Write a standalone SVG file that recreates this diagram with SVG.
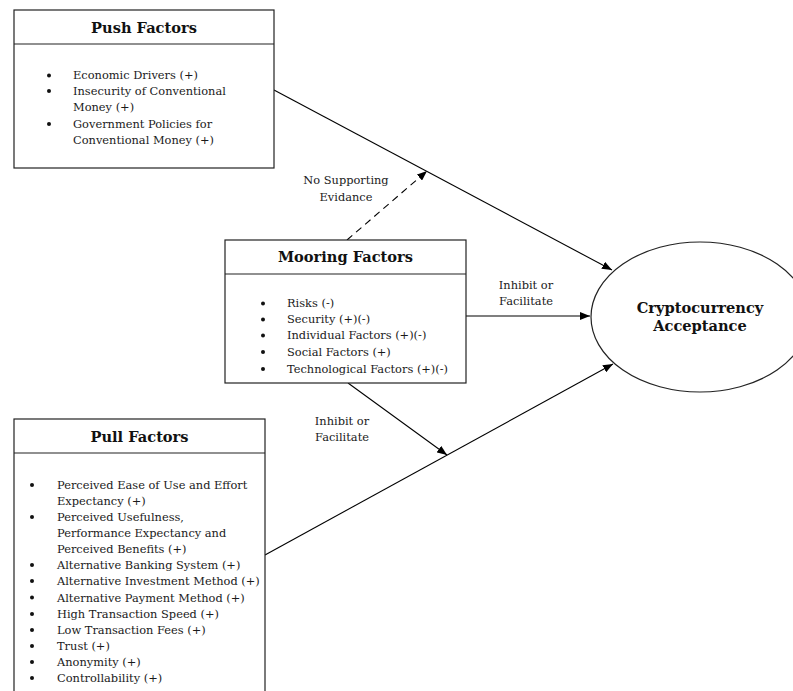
<svg xmlns="http://www.w3.org/2000/svg" width="793" height="691" viewBox="0 0 793 691">
<defs>
<style>
.box{fill:#fff;stroke:#222;stroke-width:1.2}
.t{font-family:"DejaVu Serif","Liberation Serif",serif;font-size:14.6px;font-weight:bold;fill:#111;text-anchor:middle}
.b{font-family:"DejaVu Serif","Liberation Serif",serif;font-size:11.4px;fill:#1a1a1a}
.l{font-family:"DejaVu Serif","Liberation Serif",serif;font-size:11.4px;fill:#1a1a1a;text-anchor:middle}
.c{stroke:#000;stroke-width:1.1;fill:none}
.dot{fill:#111}
</style>
<marker id="ah" viewBox="0 0 10 8" refX="10" refY="4" markerWidth="10" markerHeight="8" markerUnits="userSpaceOnUse" orient="auto">
<path d="M0,0 L10,4 L0,8 z" fill="#000"/>
</marker>
</defs>
<rect width="793" height="691" fill="#fff"/>

<g id="connectors">
<line class="c" x1="274" y1="90" x2="612" y2="270" marker-end="url(#ah)"/>
<line class="c" x1="347" y1="240" x2="427" y2="171" stroke-dasharray="7,5" marker-end="url(#ah)"/>
<line class="c" x1="466" y1="316" x2="590" y2="316" marker-end="url(#ah)"/>
<line class="c" x1="265" y1="555" x2="613" y2="364" marker-end="url(#ah)"/>
<line class="c" x1="348" y1="383" x2="447" y2="455" marker-end="url(#ah)"/>
<text class="l" x="346" y="184">No Supporting</text>
<text class="l" x="346" y="201">Evidance</text>
<text class="l" x="526" y="289">Inhibit or</text>
<text class="l" x="526" y="305">Facilitate</text>
<text class="l" x="342" y="425">Inhibit or</text>
<text class="l" x="342" y="441">Facilitate</text>
</g>

<g id="push">
<rect class="box" x="14" y="10" width="260" height="158"/>
<line class="box" x1="14" y1="44" x2="274" y2="44"/>
<text class="t" x="144" y="33">Push Factors</text>
<circle class="dot" cx="49" cy="75.5" r="2"/>
<circle class="dot" cx="49" cy="91" r="2"/>
<circle class="dot" cx="49" cy="124" r="2"/>
<text class="b" x="73" y="79">Economic Drivers  (+)</text>
<text class="b" x="73" y="95">Insecurity of Conventional</text>
<text class="b" x="73" y="111">Money (+)</text>
<text class="b" x="73" y="128">Government Policies for</text>
<text class="b" x="73" y="144">Conventional Money (+)</text>
</g>

<g id="mooring">
<rect class="box" x="225" y="240" width="241" height="143"/>
<line class="box" x1="225" y1="274" x2="466" y2="274"/>
<text class="t" x="345.5" y="262">Mooring Factors</text>
<circle class="dot" cx="263" cy="303.5" r="2"/>
<circle class="dot" cx="263" cy="319.5" r="2"/>
<circle class="dot" cx="263" cy="335.5" r="2"/>
<circle class="dot" cx="263" cy="352" r="2"/>
<circle class="dot" cx="263" cy="369" r="2"/>
<text class="b" x="287" y="307">Risks (-)</text>
<text class="b" x="287" y="323">Security (+)(-)</text>
<text class="b" x="287" y="339">Individual Factors (+)(-)</text>
<text class="b" x="287" y="356">Social Factors (+)</text>
<text class="b" x="287" y="373">Technological Factors (+)(-)</text>
</g>

<g id="pull">
<rect class="box" x="14" y="419" width="251" height="285"/>
<line class="box" x1="14" y1="453" x2="265" y2="453"/>
<text class="t" x="139.5" y="442">Pull Factors</text>
<g class="dot">
<circle cx="32" cy="485" r="2"/>
<circle cx="32" cy="517" r="2"/>
<circle cx="32" cy="565" r="2"/>
<circle cx="32" cy="581" r="2"/>
<circle cx="32" cy="597.5" r="2"/>
<circle cx="32" cy="614" r="2"/>
<circle cx="32" cy="630" r="2"/>
<circle cx="32" cy="646" r="2"/>
<circle cx="32" cy="662" r="2"/>
<circle cx="32" cy="678" r="2"/>
</g>
<text class="b" x="57" y="489">Perceived Ease of Use and Effort</text>
<text class="b" x="57" y="505">Expectancy (+)</text>
<text class="b" x="57" y="521">Perceived Usefulness,</text>
<text class="b" x="57" y="537">Performance Expectancy and</text>
<text class="b" x="57" y="553">Perceived Benefits (+)</text>
<text class="b" x="57" y="569">Alternative Banking System (+)</text>
<text class="b" x="57" y="585">Alternative Investment Method (+)</text>
<text class="b" x="57" y="601.5">Alternative Payment Method (+)</text>
<text class="b" x="57" y="618">High Transaction Speed (+)</text>
<text class="b" x="57" y="634">Low Transaction Fees (+)</text>
<text class="b" x="57" y="650">Trust (+)</text>
<text class="b" x="57" y="666">Anonymity (+)</text>
<text class="b" x="57" y="682">Controllability (+)</text>
</g>

<g id="acceptance">
<ellipse class="box" cx="700" cy="317" rx="109" ry="75"/>
<text class="t" x="700" y="313">Cryptocurrency</text>
<text class="t" x="700" y="331">Acceptance</text>
</g>
</svg>
